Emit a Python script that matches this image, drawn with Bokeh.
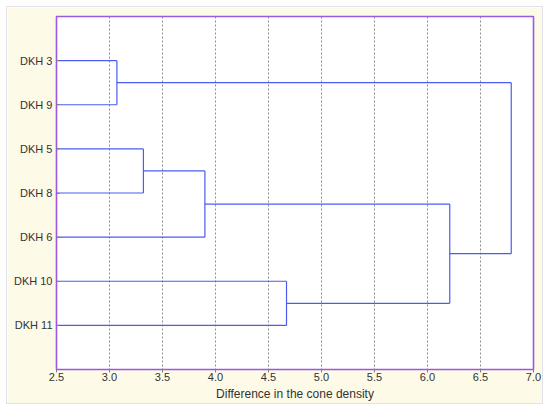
from bokeh.plotting import figure
from bokeh.models import Range1d, FixedTicker, PrintfTickFormatter
from bokeh.embed import file_html
from bokeh.resources import INLINE

# Leaves from top to bottom
leaves = ["DKH 3", "DKH 9", "DKH 5", "DKH 8", "DKH 6", "DKH 10", "DKH 11"]
# Merges (agglomeration steps): children and linkage distance
merge_names = ["M1", "M2", "M3", "M4", "M5", "M6"]
merge_left = ["DKH 3", "DKH 5", "M2", "DKH 10", "M3", "M1"]
merge_right = ["DKH 9", "DKH 8", "DKH 6", "DKH 11", "M4", "M5"]
merge_height = [3.07, 3.32, 3.90, 4.67, 6.21, 6.79]
x_ticks = [2.5, 3.0, 3.5, 4.0, 4.5, 5.0, 5.5, 6.0, 6.5, 7.0]

X_MIN, X_MAX = 2.5, 7.0

# node positions
pos = {}
for i, name in enumerate(leaves):
    pos[name] = (X_MIN, i + 1)

x0, y0, x1, y1 = [], [], [], []
for name, a, b, h in zip(merge_names, merge_left, merge_right, merge_height):
    ax, ay = pos[a]
    bx, by = pos[b]
    x0 += [ax, bx]; y0 += [ay, by]; x1 += [h, h]; y1 += [ay, by]
    x0.append(h); y0.append(ay); x1.append(h); y1.append(by)
    pos[name] = (h, (ay + by) / 2)

p = figure(width=537, height=398, output_backend="svg", toolbar_location=None,
           x_range=Range1d(X_MIN, X_MAX), y_range=Range1d(len(leaves) + 1, 0),
           min_border_left=49, min_border_right=11, min_border_top=9, min_border_bottom=36,
           styles={"margin": "6px 0 0 6px", "border": "1px solid #e2e2ec"})

p.segment(x0=x0, y0=y0, x1=x1, y1=y1, line_color="#4b5cf0", line_width=1.2)

p.border_fill_color = "#fdfae8"
p.background_fill_color = "white"
p.outline_line_color = "#9a58e4"
p.outline_line_width = 1.6

p.ygrid.grid_line_color = None
p.xgrid.grid_line_color = "#8c8c8c"
p.xgrid.grid_line_dash = "2 2"
p.xgrid.grid_line_width = 1

p.xaxis.ticker = FixedTicker(ticks=x_ticks)
p.xaxis.formatter = PrintfTickFormatter(format="%.1f")
p.yaxis.ticker = FixedTicker(ticks=list(range(1, len(leaves) + 1)))
p.yaxis.major_label_overrides = {i + 1: n for i, n in enumerate(leaves)}

for ax in (p.xaxis, p.yaxis):
    ax.axis_line_color = None
    ax.minor_tick_line_color = None
    ax.major_tick_line_color = "#808080"
    ax.major_label_text_font = "Liberation Sans"
    ax.major_label_text_font_size = "11px"
    ax.major_label_text_color = "#333333"

p.xaxis.major_tick_in = 0
p.xaxis.major_tick_out = 3
p.xaxis.major_label_standoff = 0
p.yaxis.major_tick_in = 3
p.yaxis.major_tick_out = 0
p.yaxis.major_label_standoff = 4

p.xaxis.axis_label = "Difference in the cone density"
p.xaxis.axis_label_text_font = "Liberation Sans"
p.xaxis.axis_label_text_font_size = "12px"
p.xaxis.axis_label_text_font_style = "normal"
p.xaxis.axis_label_text_color = "#333333"
p.xaxis.axis_label_standoff = 3

open("out.html", "w").write(file_html(p, INLINE))
